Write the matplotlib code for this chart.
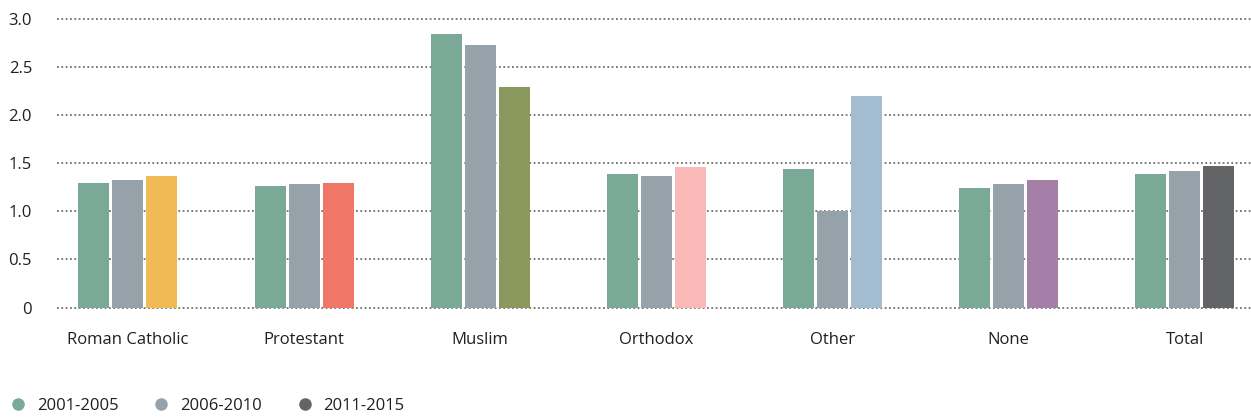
import numpy as np
import matplotlib.pyplot as plt
from matplotlib.lines import Line2D

# podaci
categories = ["Roman Catholic", "Protestant", "Muslim", "Orthodox", "Other", "None", "Total"]
periods = ["2001-2005", "2006-2010", "2011-2015"]
v_2001_2005 = [1.29, 1.26, 2.84, 1.39, 1.44, 1.24, 1.39]
v_2006_2010 = [1.33, 1.28, 2.73, 1.37, 1.00, 1.28, 1.42]
v_2011_2015 = [1.37, 1.29, 2.29, 1.46, 2.20, 1.33, 1.47]
y_ticks = [0, 0.5, 1.0, 1.5, 2.0, 2.5, 3.0]
y_tick_labels = ["0", "0.5", "1.0", "1.5", "2.0", "2.5", "3.0"]

# boje
c_green = "#7aa997"
c_grey = "#96a2aa"
third_colors = ["#f0bb55", "#f07667", "#8a985e", "#f8b9b7", "#a2bdcf", "#a67fa8", "#636466"]
c_dark = "#636466"
txt = "#231f20"

plt.rcParams["font.family"] = ["Open Sans", "DejaVu Sans"]

W, H = 1251, 419
fig = plt.figure(figsize=(W / 100, H / 100), dpi=100)
y0, y1 = 307.5, 19
ax = fig.add_axes([57 / W, 1 - y0 / H, 1 - 57 / W, (y0 - y1) / H])

x = np.arange(len(categories))
w = 0.176
step = 0.193
ax.bar(x - step, v_2001_2005, w, color=c_green, zorder=3)
ax.bar(x, v_2006_2010, w, color=c_grey, zorder=3)
ax.bar(x + step, v_2011_2015, w, color=third_colors, zorder=3)

ax.set_xlim(-0.403, 6.375)
ax.set_ylim(0, 3.0)
ax.set_yticks(y_ticks)
ax.set_yticklabels(y_tick_labels)
ax.set_xticks(x)
ax.set_xticklabels(categories)
ax.tick_params(axis="both", length=0, labelsize=12, colors=txt)
ax.tick_params(axis="y", pad=18)
ax.tick_params(axis="x", pad=18)

ax.grid(axis="y", linestyle=(0, (1, 1.4)), color="#707070", linewidth=1.3, zorder=0)
for s in ax.spines.values():
    s.set_visible(False)
for gl in ax.get_ygridlines():
    gl.set_clip_on(False)

handles = [Line2D([], [], marker="o", linestyle="", markersize=8, color=c)
           for c in [c_green, c_grey, c_dark]]
fig.legend(handles, periods, loc="center left", bbox_to_anchor=(0.0, 1 - 406 / H),
           ncol=3, frameon=False, fontsize=12, handletextpad=0.75, columnspacing=2.2,
           handlelength=0.75, borderpad=0, borderaxespad=0.7, labelcolor=txt)

fig.savefig("out.png", dpi=100)
